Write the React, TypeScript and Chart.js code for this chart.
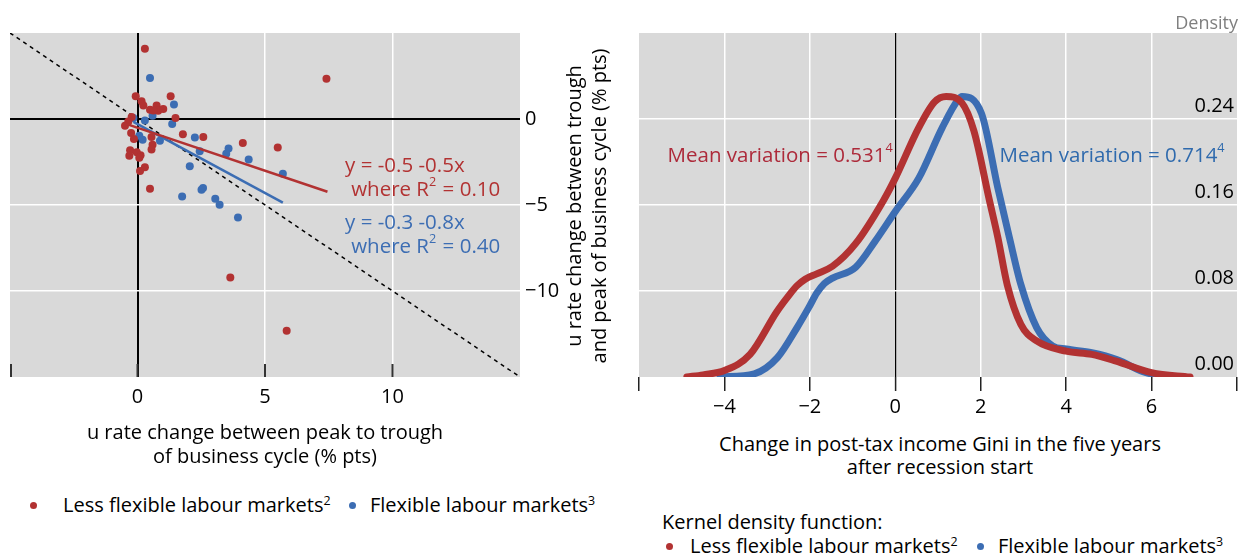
import React, { useEffect, useRef } from 'react';
import { Chart, registerables } from 'chart.js';
Chart.register(...registerables);

const FONT = "'Open Sans', 'Noto Sans', sans-serif";
const FS = 20;
const FS_NOTE = 20.5;

const RED = '#b23232';
const BLUE = '#3c6db3';
const RED_TXT = '#ad2a3a';
const BLUE_TXT = '#2f6aad';
const GREY_BG = '#d9d9d9';

// ---- Left panel: scatter ----
const lessX = [0.29, -0.07, 0.16, 0.23, 0.49, 0.75, 0.81, 1.01, 0.62, 1.30, 1.49, -0.23, -0.36, -0.49, -0.25, -0.14, 0.55, 0.59, 0.55, -0.29, -0.32, -0.03, 0.12, 0.07, 0.29, 0.10, 0.49, 1.78, 2.58, 4.13, 5.50, 7.41, 3.64, 5.85];
const lessY = [4.09, 1.32, 1.03, 0.78, 0.54, 0.78, 0.48, 0.58, 0.50, 1.32, 0.06, 0.12, -0.14, -0.39, -0.81, -1.16, -1.05, -1.49, -1.78, -1.82, -2.13, -1.94, -2.11, -2.25, -2.81, -3.02, -4.05, -0.89, -1.05, -1.40, -1.65, 2.34, -9.21, -12.31];
const flexX = [0.49, 1.43, 0.59, 0.29, 1.36, -0.16, 0.07, 0.20, 0.88, 2.25, 2.44, 3.57, 3.48, 4.36, 2.05, 5.70, 1.75, 2.51, 2.57, 3.05, 3.22, 3.94];
const flexY = [2.38, 0.85, 0.19, -0.08, -0.29, 0.06, -0.97, -1.20, -1.26, -1.07, -1.88, -1.71, -2.02, -2.36, -2.75, -3.18, -4.50, -4.11, -4.01, -4.63, -4.98, -5.72];
const lessFitX = [-0.45, 7.45];
const lessFitY = [-0.28, -4.23];
const flexFitX = [-0.16, 5.7];
const flexFitY = [-0.17, -4.86];
const diagX = [-5, 15];
const diagY = [5, -15];
const leftXTicks = [-5, 0, 5, 10, 15];
const leftXLabels = ['', '0', '5', '10', ''];
const leftYTicks = [-15, -10, -5, 0, 5];
const leftYLabels = ['', '\u221210', '\u22125', '0', ''];

// ---- Right panel: kernel densities ----
const lessDensX = [-4.88, -4.5, -4.0, -3.4, -2.77, -2.49, -2.3, -2.11, -1.84, -1.47, -0.93, -0.28, 0, 0.55, 0.92, 1.19, 1.56, 1.84, 2.2, 2.4, 2.62, 2.94, 3.31, 4.0, 4.6, 5.15, 6.0, 6.9];
const lessDensY = [0, 0.002, 0.006, 0.021, 0.061, 0.076, 0.085, 0.091, 0.096, 0.103, 0.124, 0.164, 0.185, 0.232, 0.256, 0.261, 0.255, 0.229, 0.165, 0.130, 0.086, 0.049, 0.0335, 0.024, 0.021, 0.015, 0.004, 0];
const flexDensX = [-4.1, -3.3, -2.76, -2.3, -2.02, -1.84, -1.66, -1.47, -0.93, -0.46, 0, 0.55, 1.10, 1.47, 1.56, 2.02, 2.40, 2.67, 2.94, 3.31, 3.68, 4.0, 4.6, 5.2, 5.87, 6.63];
const flexDensY = [0, 0.003, 0.018, 0.046, 0.065, 0.078, 0.087, 0.092, 0.102, 0.127, 0.154, 0.185, 0.232, 0.258, 0.261, 0.245, 0.176, 0.130, 0.086, 0.046, 0.029, 0.026, 0.0226, 0.016, 0.004, 0];
const rightXTicks = [-6, -4, -2, 0, 2, 4, 6, 8];
const rightXLabels = ['', '\u22124', '\u22122', '0', '2', '4', '6', ''];
const rightYTicks = [0, 0.08, 0.16, 0.24, 0.32];
const rightYLabels = ['0.00', '0.08', '0.16', '0.24', ''];

const pts = (xs: number[], ys: number[]) => xs.map((x, i) => ({ x, y: ys[i] }));

function drawRich(ctx: CanvasRenderingContext2D, x: number, y: number, parts: [string, boolean][], color: string, size: number) {
  ctx.save();
  ctx.fillStyle = color;
  ctx.textBaseline = 'middle';
  ctx.textAlign = 'left';
  let cx = x;
  for (const [t, sup] of parts) {
    const s = sup ? size * 0.62 : size;
    ctx.font = `${s}px ${FONT}`;
    ctx.fillText(t, cx, sup ? y - size * 0.38 : y);
    cx += ctx.measureText(t).width + (sup ? 1 : 0);
  }
  ctx.restore();
}

const bgPlugin = {
  id: 'bg',
  beforeDraw(chart: any) {
    const { ctx, chartArea: a } = chart;
    ctx.save();
    ctx.fillStyle = GREY_BG;
    ctx.fillRect(a.left, a.top, a.right - a.left, a.bottom - a.top);
    ctx.restore();
  },
};

const leftPlugin = {
  id: 'leftDeco',
  afterDatasetsDraw(chart: any) {
    const { ctx, chartArea: a, scales } = chart;
    const xs = scales.x, ys = scales.y;
    ctx.save();
    ctx.strokeStyle = '#333';
    ctx.lineWidth = 2;
    [-5, 0, 5, 10].forEach((v) => {
      const px = xs.getPixelForValue(v) + (v === -5 ? 1 : 0);
      ctx.beginPath();
      ctx.moveTo(px, a.bottom);
      ctx.lineTo(px, a.bottom - 13);
      ctx.stroke();
    });
    ctx.restore();
    drawRich(ctx, xs.getPixelForValue(8.14), ys.getPixelForValue(-2.77), [['y = -0.5 -0.5x', false]], RED, FS_NOTE);
    drawRich(ctx, xs.getPixelForValue(8.38), ys.getPixelForValue(-4.11), [['where R', false], ['2', true], [' = 0.10', false]], RED, FS_NOTE);
    drawRich(ctx, xs.getPixelForValue(8.14), ys.getPixelForValue(-6.03), [['y = -0.3 -0.8x', false]], BLUE, FS_NOTE);
    drawRich(ctx, xs.getPixelForValue(8.38), ys.getPixelForValue(-7.48), [['where R', false], ['2', true], [' = 0.40', false]], BLUE, FS_NOTE);
  },
};

const rightPlugin = {
  id: 'rightDeco',
  afterDatasetsDraw(chart: any) {
    const { ctx, chartArea: a, scales } = chart;
    const xs = scales.x, ys = scales.y;
    ctx.save();
    ctx.font = `${FS}px ${FONT}`;
    ctx.fillStyle = '#000';
    ctx.textAlign = 'right';
    ctx.textBaseline = 'alphabetic';
    rightYTicks.forEach((v, i) => {
      if (!rightYLabels[i]) return;
      ctx.fillText(rightYLabels[i], a.right - 3, ys.getPixelForValue(v) - 7);
    });
    ctx.restore();
    drawRich(ctx, xs.getPixelForValue(-5.33), ys.getPixelForValue(0.2056), [['Mean variation = 0.531', false], ['4', true]], RED_TXT, FS_NOTE);
    drawRich(ctx, xs.getPixelForValue(2.44), ys.getPixelForValue(0.2056), [['Mean variation = 0.714', false], ['4', true]], BLUE_TXT, FS_NOTE);
  },
};

function LeftChart() {
  const ref = useRef<HTMLCanvasElement>(null);
  useEffect(() => {
    const chart = new Chart(ref.current!, {
      type: 'scatter',
      data: {
        datasets: [
          { data: pts(diagX, diagY), showLine: true, borderColor: '#000', borderWidth: 1.5, borderDash: [4, 4], pointRadius: 0, order: 5 } as any,
          { data: pts(flexX, flexY), backgroundColor: BLUE, borderWidth: 0, pointRadius: 4, order: 4 },
          { data: pts(lessX, lessY), backgroundColor: RED, borderWidth: 0, pointRadius: 4, order: 3 },
          { data: pts(flexFitX, flexFitY), showLine: true, borderColor: BLUE, borderWidth: 2.5, pointRadius: 0, order: 2 },
          { data: pts(lessFitX, lessFitY), showLine: true, borderColor: RED, borderWidth: 2.5, pointRadius: 0, order: 1 },
        ],
      },
      options: {
        animation: false,
        responsive: false,
        events: [],
        layout: { padding: { left: 10, top: 33, right: 0, bottom: 0 } },
        plugins: { legend: { display: false }, tooltip: { enabled: false } },
        scales: {
          x: {
            type: 'linear', min: -5, max: 15,
            afterBuildTicks: (s: any) => { s.ticks = leftXTicks.map((v) => ({ value: v })); },
            afterFit: (s: any) => { s.height = 43; },
            ticks: { autoSkip: false, maxRotation: 0, padding: 8, color: '#000', font: { family: FONT, size: FS }, callback: (v: any) => leftXLabels[leftXTicks.indexOf(v)] },
            grid: { drawTicks: false, color: (c: any) => (c.tick.value === 0 ? '#000' : (c.tick.value === -5 || c.tick.value === 15) ? 'rgba(0,0,0,0)' : '#fff'), lineWidth: (c: any) => (c.tick.value === 0 ? 2 : 1.5) },
            border: { display: false },
          },
          y: {
            type: 'linear', position: 'right', min: -15, max: 5,
            afterBuildTicks: (s: any) => { s.ticks = leftYTicks.map((v) => ({ value: v })); },
            afterFit: (s: any) => { s.width = 100; },
            ticks: { autoSkip: false, padding: 5, color: '#000', font: { family: FONT, size: FS }, callback: (v: any) => leftYLabels[leftYTicks.indexOf(v)] },
            grid: { drawTicks: false, color: (c: any) => (c.tick.value === 0 ? '#000' : (c.tick.value === -15 || c.tick.value === 5) ? 'rgba(0,0,0,0)' : '#fff'), lineWidth: (c: any) => (c.tick.value === 0 ? 2 : 1.5) },
            border: { display: false },
          },
        },
      },
      plugins: [bgPlugin, leftPlugin],
    });
    return () => chart.destroy();
  }, []);
  return <canvas ref={ref} width={620} height={420} style={{ position: 'absolute', left: 0, top: 0, width: 620, height: 420 }} />;
}

function RightChart() {
  const ref = useRef<HTMLCanvasElement>(null);
  useEffect(() => {
    const chart = new Chart(ref.current!, {
      type: 'scatter',
      data: {
        datasets: [
          { data: pts(flexDensX, flexDensY), showLine: true, borderColor: BLUE, borderWidth: 7, pointRadius: 0, cubicInterpolationMode: 'monotone', borderCapStyle: 'round', borderJoinStyle: 'round', order: 2 } as any,
          { data: pts(lessDensX, lessDensY), showLine: true, borderColor: RED, borderWidth: 7, pointRadius: 0, cubicInterpolationMode: 'monotone', borderCapStyle: 'round', borderJoinStyle: 'round', order: 1 } as any,
        ],
      },
      options: {
        animation: false,
        responsive: false,
        events: [],
        layout: { padding: { left: 19, top: 33, right: 0, bottom: 0 } },
        plugins: { legend: { display: false }, tooltip: { enabled: false } },
        scales: {
          x: {
            type: 'linear', min: -6, max: 8,
            afterBuildTicks: (s: any) => { s.ticks = rightXTicks.map((v) => ({ value: v })); },
            afterFit: (s: any) => { s.height = 43; },
            ticks: { autoSkip: false, maxRotation: 0, padding: 4, color: '#000', font: { family: FONT, size: FS }, callback: (v: any) => rightXLabels[rightXTicks.indexOf(v)] },
            grid: { drawTicks: true, tickLength: 14, tickColor: '#222', tickWidth: 1.5, color: (c: any) => (c.tick.value === 0 ? '#000' : (c.tick.value === -6 || c.tick.value === 8) ? 'rgba(0,0,0,0)' : '#fff'), lineWidth: (c: any) => (c.tick.value === 0 ? 1.2 : 1.5) },
            border: { display: false },
          },
          y: {
            type: 'linear', position: 'right', min: 0, max: 0.32,
            afterBuildTicks: (s: any) => { s.ticks = rightYTicks.map((v) => ({ value: v })); },
            afterFit: (s: any) => { s.width = 0; },
            ticks: { display: false },
            grid: { drawTicks: false, color: (c: any) => (c.tick.value === 0 || c.tick.value === 0.32 ? 'rgba(0,0,0,0)' : '#fff'), lineWidth: 1.5 },
            border: { display: false },
          },
        },
      },
      plugins: [bgPlugin, rightPlugin],
    });
    return () => chart.destroy();
  }, []);
  return <canvas ref={ref} width={621} height={420} style={{ position: 'absolute', left: 620, top: 0, width: 621, height: 420 }} />;
}

const Sup = ({ c }: { c: string }) => (
  <sup style={{ fontSize: '0.62em', verticalAlign: '0.6em', lineHeight: 0 }}>{c}</sup>
);

function T({ x, y, children, center, color, size }: any) {
  const s = size || FS;
  return (
    <div style={{ position: 'absolute', left: x, top: y - 13, height: 26, lineHeight: '26px', whiteSpace: 'nowrap', fontSize: s, color: color || '#000', transform: center ? 'translateX(-50%)' : undefined }}>
      {children}
    </div>
  );
}

const Dot = ({ x, y, color }: any) => (
  <div style={{ position: 'absolute', left: x - 3.5, top: y - 3.5, width: 7, height: 7, borderRadius: '50%', background: color }} />
);

export default function App() {
  return (
    <div style={{ position: 'absolute', left: 0, top: 0, width: 1241, height: 556, overflow: 'hidden', background: '#fff', fontFamily: FONT }}>
      <LeftChart />
      <RightChart />
      {/* left x title */}
      <T x={265} y={432} center>u rate change between peak to trough</T>
      <T x={265} y={456} center>of business cycle (% pts)</T>
      {/* left y title (rotated) */}
      <div style={{ position: 'absolute', left: 586 - 200, top: 206 - 25, width: 400, height: 50, lineHeight: '25px', fontSize: FS, textAlign: 'center', whiteSpace: 'nowrap', transform: 'rotate(-90deg)' }}>
        u rate change between trough<br />and peak of business cycle (% pts)
      </div>
      {/* left legend */}
      <Dot x={33} y={505} color={RED} />
      <T x={63} y={505}>Less flexible labour markets<Sup c="2" /></T>
      <Dot x={352} y={505} color={BLUE} />
      <T x={370} y={505}>Flexible labour markets<Sup c="3" /></T>
      {/* right panel texts */}
      <T x={1238} y={22} color="#7f7f7f" size={18}><span style={{ position: 'absolute', right: 0 }}>Density</span></T>
      <T x={940} y={444} center>Change in post-tax income Gini in the five years</T>
      <T x={940} y={467} center>after recession start</T>
      <T x={662} y={522}>Kernel density function:</T>
      <Dot x={669} y={546} color={RED} />
      <T x={690} y={546}>Less flexible labour markets<Sup c="2" /></T>
      <Dot x={980} y={546} color={BLUE} />
      <T x={998} y={546}>Flexible labour markets<Sup c="3" /></T>
    </div>
  );
}
